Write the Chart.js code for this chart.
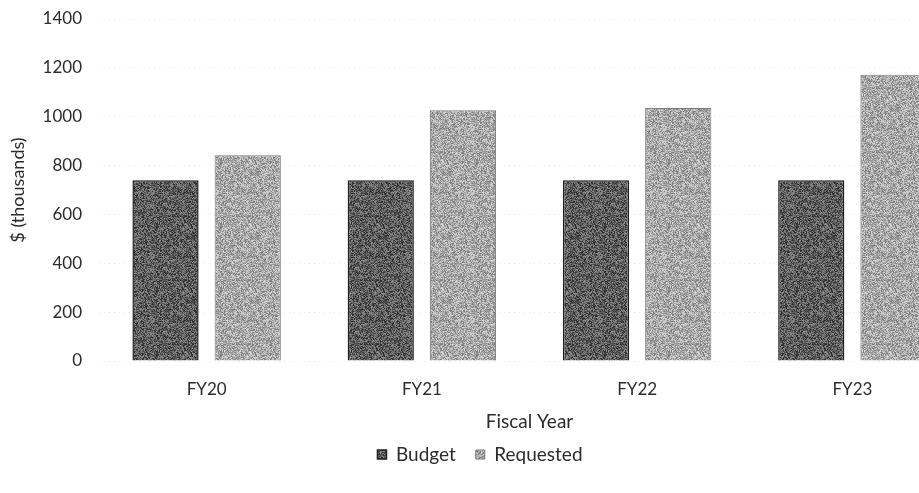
<!DOCTYPE html>
<html>
<head>
<meta charset="utf-8">
<style>
  html, body { margin: 0; padding: 0; background: #fff; overflow: hidden; }
  #wrap { width: 960px; height: 493px; }
</style>
<script src="https://cdn.jsdelivr.net/npm/chart.js@4/dist/chart.umd.min.js"></script>
</head>
<body>
<div id="wrap"><canvas id="chart" width="960" height="493"></canvas></div>
<script>
// Fiscal years and amounts in $ thousands
const fiscalYears = ['FY20', 'FY21', 'FY22', 'FY23'];
const budgetValues = [740, 740, 740, 740];
const requestedValues = [842, 1026, 1036, 1172];
const yTicks = [0, 200, 400, 600, 800, 1000, 1200, 1400];

const FONT = 'Lato, "Open Sans", sans-serif';
const TEXT = '#2b2b2b';

// Stippled grey fill, built from a fixed integer hash so it is the same every draw
function stipple(base, spread) {
  const c = document.createElement('canvas');
  c.width = 64; c.height = 64;
  const g = c.getContext('2d');
  const img = g.createImageData(64, 64);
  for (let y = 0; y < 64; y++) {
    for (let x = 0; x < 64; x++) {
      let h = (x * 374761393 + y * 668265263) | 0;
      h = Math.imul(h ^ (h >>> 13), 1274126177);
      h = (h ^ (h >>> 16)) >>> 0;
      const v = Math.max(0, Math.min(255, base + ((h % 1000) / 1000 - 0.5) * spread));
      const i = (y * 64 + x) * 4;
      img.data[i] = img.data[i + 1] = img.data[i + 2] = v;
      img.data[i + 3] = 255;
    }
  }
  g.putImageData(img, 0, 0);
  return g.createPattern(c, 'repeat');
}

const ctx = document.getElementById('chart').getContext('2d');
const budgetFill = stipple(92, 110);
const requestedFill = stipple(168, 100);

new Chart(ctx, {
  type: 'bar',
  data: {
    labels: fiscalYears,
    datasets: [
      {
        label: 'Budget',
        data: budgetValues,
        backgroundColor: budgetFill,
        borderColor: '#1f1f1f',
        borderWidth: 1.5
      },
      {
        label: 'Requested',
        data: requestedValues,
        backgroundColor: requestedFill,
        borderColor: '#7a7a7a',
        borderWidth: 1
      }
    ]
  },
  options: {
    responsive: false,
    animation: false,
    devicePixelRatio: 1,
    layout: { padding: { top: 19, bottom: 19, left: 0, right: 0 } },
    datasets: {
      bar: { categoryPercentage: 0.764, barPercentage: 0.805 }
    },
    scales: {
      x: {
        grid: { display: false, drawTicks: false },
        border: { display: false },
        ticks: { color: TEXT, font: { family: FONT, size: 17 }, padding: 18 },
        title: {
          display: true,
          text: 'Fiscal Year',
          color: TEXT,
          font: { family: FONT, size: 19 },
          padding: { top: 10, bottom: -8 }
        },
        afterFit: (scale) => { scale.height = 64; }
      },
      y: {
        min: 0,
        max: 1400,
        afterBuildTicks: (scale) => { scale.ticks = yTicks.map(v => ({ value: v })); },
        grid: {
          color: '#ececec',
          lineWidth: 1,
          drawTicks: false
        },
        border: { display: false, dash: [1, 4] },
        ticks: {
          color: TEXT,
          font: { family: FONT, size: 17 },
          padding: 17,
          callback: (v) => String(v)
        },
        title: {
          display: true,
          text: '$ (thousands)',
          color: TEXT,
          font: { family: FONT, size: 18 },
          padding: { top: 7, bottom: 0 }
        },
        afterFit: (scale) => {
          scale.width = 99;
          scale.paddingTop = 0;
          scale.paddingBottom = 0;
        }
      }
    },
    plugins: {
      tooltip: { enabled: false },
      legend: {
        position: 'bottom',
        labels: {
          color: TEXT,
          font: { family: FONT, size: 19 },
          boxWidth: 9,
          boxHeight: 9,
          padding: 20
        }
      }
    }
  }
});
</script>
</body>
</html>
